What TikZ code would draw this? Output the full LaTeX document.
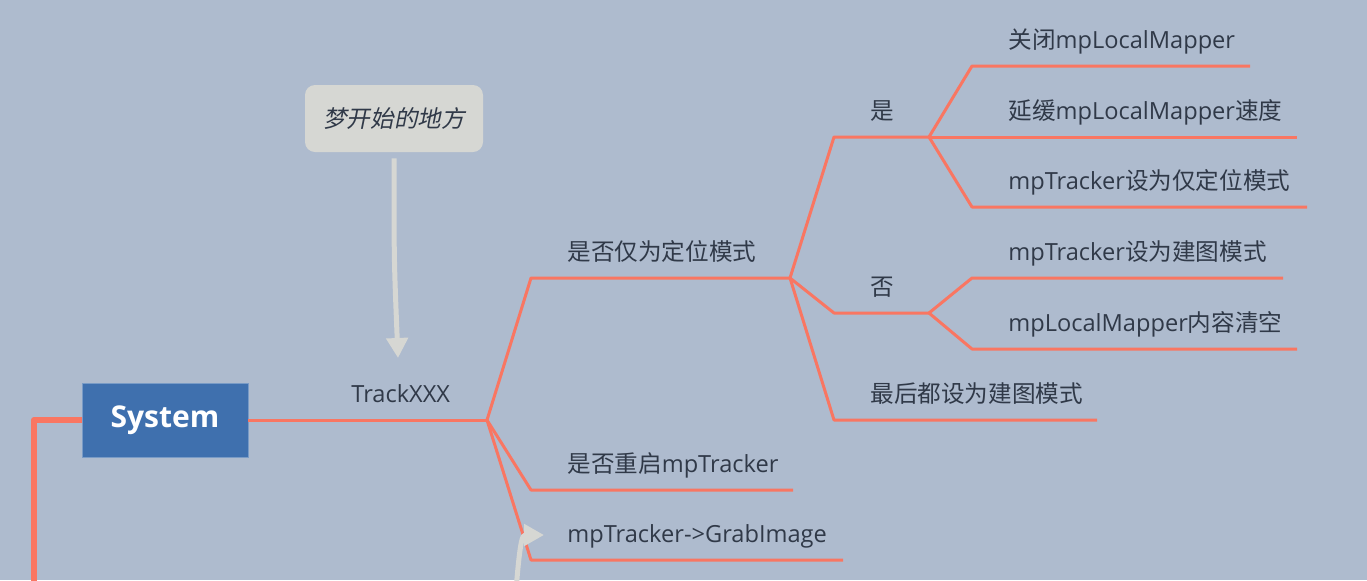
\documentclass[tikz,border=0pt]{standalone}
\usepackage{fontspec}
\setmainfont{Open Sans}
\newfontfamily\cjk{Noto Sans CJK SC}
\newfontfamily\cjkit[FakeSlant=0.2]{Noto Sans CJK SC}
\usetikzlibrary{positioning,calc,arrows.meta}
\newcommand{\zh}[1]{{\cjk #1}}
\definecolor{canvas}{RGB}{174,187,206}
\definecolor{branch}{RGB}{249,118,98}
\definecolor{sysblue}{RGB}{63,112,174}
\definecolor{note}{RGB}{214,215,211}
\definecolor{ink}{RGB}{48,57,72}

\begin{document}
\begin{tikzpicture}[%
    x=0.5pt, y=-0.5pt,
    branch/.style={draw=branch, line width=1.5pt, line join=round},
    topic/.style={anchor=base west, inner sep=0pt, text=ink, font=\fontsize{11.8}{14}\selectfont},
    sysbox/.style={fill=sysblue, draw=sysblue!70!white, text=white, minimum width=83pt,
      minimum height=37pt, font=\fontsize{15}{18}\selectfont\bfseries},
    notebox/.style={fill=note, rounded corners=5pt, minimum width=89pt, minimum height=33.5pt,
      text=ink, font=\fontsize{11.8}{14}\selectfont\cjkit},
    pointer/.style={draw=note, line width=2.5pt, -{Triangle[length=10pt,width=10.5pt]}}
  ]
    \fill[canvas] (0,0) rectangle (1367,580);
    \useasboundingbox (0,0) rectangle (1367,580);

    % central topic and callout
    \node[sysbox]  (system) at (165,420)   {\raisebox{-1.5pt}{System}};
    \node[notebox] (dream)  at (394,118.5) {梦开始的地方};

    % branch points and line ends
    \coordinate (track) at (487,420);
    \coordinate (k1)  at (531,278);  \coordinate (e1)  at (790,278);
    \coordinate (k2)  at (531,490);  \coordinate (e2)  at (793,490);
    \coordinate (k3)  at (531,560);  \coordinate (e3)  at (843,560);
    \coordinate (k4)  at (834,137);  \coordinate (e4)  at (929,137);
    \coordinate (k5)  at (834,313);  \coordinate (e5)  at (929,313);
    \coordinate (k6)  at (834,420);  \coordinate (e6)  at (1097,420);
    \coordinate (k7)  at (972,66);   \coordinate (e7)  at (1250,66);
    \coordinate (k8)  at (972,137);  \coordinate (e8)  at (1297,137);
    \coordinate (k9)  at (972,207);  \coordinate (e9)  at (1307,207);
    \coordinate (k10) at (972,278);  \coordinate (e10) at (1283,278);
    \coordinate (k11) at (972,349);  \coordinate (e11) at (1297,349);
    \coordinate (rail) at (34,420);  \coordinate (railend) at (34,590);

    \draw[branch, line width=3pt] (system.west) -- (rail) -- (railend);
    \draw[branch] (system.east) -- (track);
    \foreach \p/\k/\e in {track/k1/e1, track/k2/e2, track/k3/e3,
                          e1/k4/e4, e1/k5/e5, e1/k6/e6,
                          e4/k7/e7, e4/k8/e8, e4/k9/e9,
                          e5/k10/e10, e5/k11/e11}
      {\draw[branch] (\p) -- (\k) -- (\e);};

    % labels
    \node[topic] (t-track) at ($(track)+(-136,-18)$) {TrackXXX};
    \foreach \k/\t in {k1/{\zh{是否仅为定位模式}},
                       k2/{\zh{是否重启}mpTracker},
                       k3/{mpTracker->GrabImage},
                       k4/{\zh{是}},
                       k5/{\zh{否}},
                       k6/{\zh{最后都设为建图模式}},
                       k7/{\zh{关闭}mpLocalMapper},
                       k8/{\zh{延缓}mpLocalMapper\zh{速度}},
                       k9/{mpTracker\zh{设为仅定位模式}},
                       k10/{mpTracker\zh{设为建图模式}},
                       k11/{mpLocalMapper\zh{内容清空}}}
      {\node[topic] (t-\k) at ($(\k)+(36,-18)$) {\t};};

    % grey pointers
    \coordinate (dreamtip) at (398,358);
    \draw[pointer] ([yshift=-3pt]dream.south) .. controls (394,260) .. (dreamtip);
    \coordinate (grabfoot) at (516,590);
    \coordinate (grabtip)  at (544,535);
    \draw[pointer] (grabfoot) .. controls (520,542) and (522,535) .. (grabtip);
\end{tikzpicture}
\end{document}
